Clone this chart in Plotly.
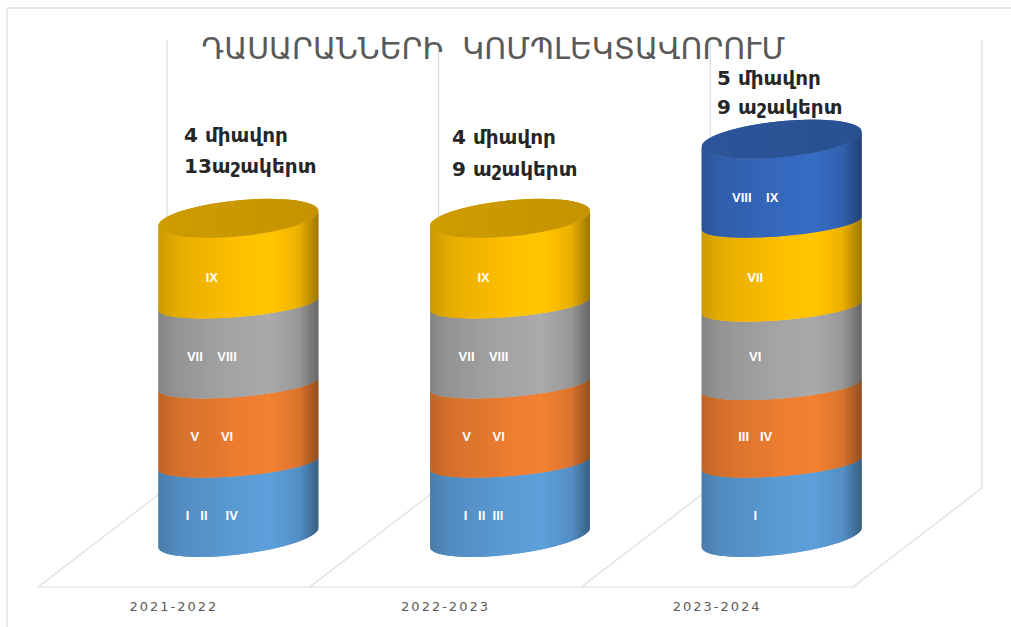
import plotly.graph_objects as go
import numpy as np

categories = ["2021-2022", "2022-2023", "2023-2024"]
series_1 = [0.93, 0.93, 0.93]
series_2 = [0.99, 0.99, 0.97]
series_3 = [1.0, 1.0, 0.98]
series_4 = [1.07, 1.07, 1.05]
series_5 = [0.0, 0.0, 1.05]
labels_1 = ["I   II     IV", "I   II  III", "I"]
labels_2 = ["V      VI", "V      VI", "III   IV"]
labels_3 = ["VII    VIII", "VII    VIII", "VI"]
labels_4 = ["IX", "IX", "VII"]
labels_5 = ["", "", "VIII    IX"]
notes = [["4 միավոր", "13աշակերտ"], ["4 միավոր", "9 աշակերտ"], ["5 միավոր", "9 աշակերտ"]]
title_text = "ԴԱՍԱՐԱՆՆԵՐԻ  ԿՈՄՊԼԵԿՏԱՎՈՐՈՒՄ"
base_colors = ["#5B9BD5", "#ED7D31", "#A5A5A5", "#FFC000", "#3569BE"]

note_levels = [[5.65, 5.26], [5.625, 5.225], [6.36, 6.0]]
note_x = [0.03, 0.017, -0.008]

W, H = 1011, 627
X_UNIT = 271.67   # pixels per category
Y_UNIT = 80.0     # pixels per value unit
X0 = 38 + 0.5 * X_UNIT   # pixel of category 0, front of the floor
Y0 = 587
x_range = [(0 - X0) / X_UNIT, (W - X0) / X_UNIT]
y_range = [(Y0 - H) / Y_UNIT, Y0 / Y_UNIT]
DX = 129 / X_UNIT     # depth vector
DY = 99 / Y_UNIT
RX = 80 / X_UNIT      # cylinder half width
FLOOR_ARC = (9.5 / Y_UNIT, 17 / Y_UNIT)
MID_ARC = (6.5 / Y_UNIT, 13 / Y_UNIT)
TOP_ARC = (7.5 / Y_UNIT, 18 / Y_UNIT)


def shade(u):
    pts = [0, .12, .5, .7, .88, 1]
    vals = [.8, .9, 1.0, 1.03, .92, .62]
    return float(np.interp(u, pts, vals))


def mix(hex_color, f):
    rgb = [int(hex_color[i:i + 2], 16) for i in (1, 3, 5)]
    c = [min(255, v * f) for v in rgb]
    return "rgb(%d,%d,%d)" % tuple(round(v) for v in c)


def arc(cy, u, sign, params):
    """y of the ellipse at horizontal position u in -1..1; sign -1 is the front edge"""
    tilt, ry = params
    return cy + tilt * u + sign * ry * np.sqrt(np.clip(1 - u * u, 0, 1))


def strip(xs, lo, hi, col):
    fig.add_trace(go.Scatter(
        x=np.r_[xs, xs[::-1]], y=np.r_[lo, hi[::-1]], mode="lines", fill="toself",
        fillcolor=col, line=dict(width=0), hoverinfo="skip", showlegend=False))


fig = go.Figure()

# floor and wall lines
GRID = "#DEDEDE"
for k in range(4):
    fig.add_trace(go.Scatter(
        x=[k - .5, k - .5 + DX, k - .5 + DX], y=[0, DY, 6.84],
        mode="lines", line=dict(color=GRID, width=1.2), hoverinfo="skip", showlegend=False))
fig.add_trace(go.Scatter(x=[-.5, 2.5], y=[0, 0], mode="lines",
                         line=dict(color=GRID, width=1.2), hoverinfo="skip", showlegend=False))

all_series = [series_1, series_2, series_3, series_4, series_5]
all_labels = [labels_1, labels_2, labels_3, labels_4, labels_5]
STRIPS = 70
edges = np.sin(np.linspace(-np.pi / 2, np.pi / 2, STRIPS + 1))

for c, cat in enumerate(categories):
    cx = c + DX / 2
    floor = DY / 2
    bottom = 0.0
    for s, vals in enumerate(all_series):
        v = vals[c]
        if v <= 0:
            continue
        is_top = s == 4 or all_series[s + 1][c] <= 0
        lo_par = FLOOR_ARC if s == 0 else MID_ARC
        hi_par = TOP_ARC if is_top else MID_ARC
        for i in range(STRIPS):
            # every strip reaches over the next one, so no seam shows between them
            u = np.linspace(edges[i], edges[min(i + 2, STRIPS)], 5)
            xs = cx + u * RX
            lo = arc(floor + bottom, u, -1, lo_par)
            hi = arc(floor + bottom + v, u, -1, hi_par)
            centre = (edges[i] + edges[i + 1]) / 2
            strip(xs, lo, hi, mix(base_colors[s], shade((centre + 1) / 2)))
        bottom += v
        top_series = s
    # top cap
    for i in range(0, STRIPS, 2):
        u = np.linspace(edges[i], edges[min(i + 4, STRIPS)], 7)
        xs = cx + u * RX
        lo = arc(floor + bottom, u, -1, TOP_ARC)
        hi = arc(floor + bottom, u, 1, TOP_ARC)
        centre = (edges[i] + edges[i + 2]) / 2
        strip(xs, lo, hi, mix(base_colors[top_series], 0.81 - 0.04 * (centre + 1) / 2))

# segment labels
lx, ly, lt = [], [], []
for c in range(3):
    for s, (vals, labs) in enumerate(zip(all_series, all_labels)):
        if vals[c] > 0:
            lx.append(c + 0.14)
            ly.append(0.875 + s * 0.994)
            lt.append(labs[c])
fig.add_trace(go.Scatter(x=lx, y=ly, text=lt, mode="text", hoverinfo="skip", showlegend=False,
                         textfont=dict(family="Liberation Sans", size=13, color="white", weight="bold")))

annotations = []
for c, lines in enumerate(notes):
    for j, line in enumerate(lines):
        annotations.append(dict(
            x=c + note_x[c], y=note_levels[c][j], text=line, xref="x", yref="y",
            xanchor="left", yanchor="middle", showarrow=False,
            font=dict(family="DejaVu Sans", size=20, color="#262626", weight="bold")))

fig.update_layout(
    width=W, height=H, margin=dict(l=0, r=0, t=0, b=0), autosize=False,
    paper_bgcolor="white", plot_bgcolor="white", showlegend=False,
    title=dict(text=title_text, x=0.488, xanchor="center", y=0.923, yanchor="middle",
               font=dict(family="DejaVu Sans", size=30, color="#595959")),
    annotations=annotations,
    xaxis=dict(range=x_range, tickmode="array", tickvals=[0, 1, 2], ticktext=categories,
               showgrid=False, zeroline=False, showline=False, ticks="", anchor="free",
               position=(H - Y0 - 10) / H, fixedrange=True,
               tickfont=dict(family="DejaVu Sans", size=13, color="#595959")),
    yaxis=dict(range=y_range, visible=False, showgrid=False, zeroline=False, fixedrange=True),
    shapes=[
        dict(type="line", xref="paper", yref="paper", x0=7 / W, x1=7 / W, y0=0, y1=1 - 8 / H,
             line=dict(color="#E2E2E2", width=1.5)),
        dict(type="line", xref="paper", yref="paper", x0=7 / W, x1=1, y0=1 - 8 / H, y1=1 - 8 / H,
             line=dict(color="#E2E2E2", width=1.5)),
    ],
)
post = ("document.body.style.margin='0';"
        "document.querySelectorAll('.xtick text').forEach(function(t){t.style.letterSpacing='2px';});")
fig.write_html("out.html", post_script=post, config={"displayModeBar": False})
